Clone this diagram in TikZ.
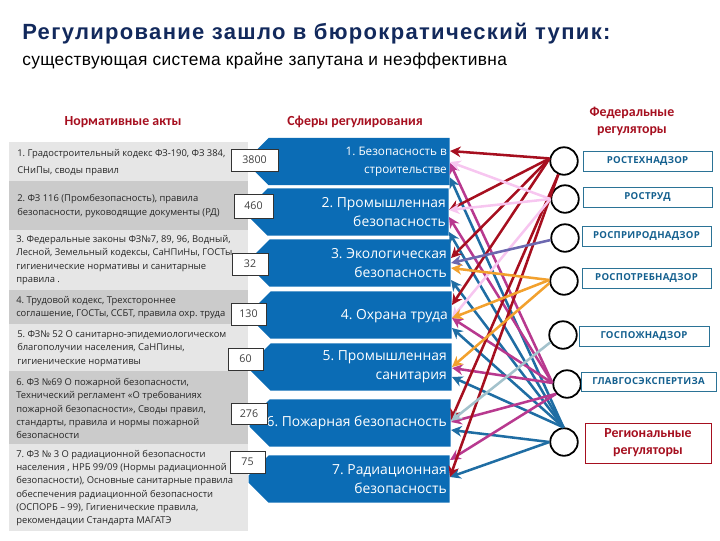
\documentclass[tikz,border=0pt]{standalone}
\usepackage{fontspec}
\setmainfont{Open Sans}
\newfontfamily\titlefont[LetterSpace=6]{Liberation Sans}
\newfontfamily\subfont[LetterSpace=2]{Liberation Sans}
\newfontfamily\regfont[LetterSpace=3]{Open Sans}
\newfontfamily\headfont{Carlito}
\usetikzlibrary{arrows.meta,shapes.misc,calc,shadows}
\frenchspacing
\def\px{0.75pt}
\definecolor{cBlue}{HTML}{0B6CB5}
\definecolor{cLine}{HTML}{1F6DA3}
\definecolor{cRed}{HTML}{A60F1F}
\definecolor{cPink}{HTML}{F7C6F0}
\definecolor{cMag}{HTML}{B8398F}
\definecolor{cPur}{HTML}{6C68B0}
\definecolor{cOra}{HTML}{F2A12E}
\definecolor{cGrey}{HTML}{A3C2CC}
\definecolor{cBandA}{HTML}{E6E6E6}
\definecolor{cBandB}{HTML}{CBCBCB}
\definecolor{cNavy}{HTML}{12295C}
\definecolor{cBoxB}{HTML}{2B7396}
\definecolor{cTxt}{HTML}{14608F}
\newcommand{\spherebody}{\phantom{\rule{132.75pt}{23.6pt}}}
\tikzset{
 band/.style={rectangle,anchor=west,minimum width=239*\px,inner sep=0pt},
 bandtext/.style={anchor=west,inner sep=0pt,align=left,text=black!85,font=\fontsize{7.05}{10}\selectfont},
 sphere/.style={chamfered rectangle,chamfered rectangle corners={north west,south west},chamfered rectangle xsep=12*\px,chamfered rectangle ysep=8*\px,fill=cBlue,anchor=east,inner sep=0pt},
 spheretext/.style={anchor=east,inner sep=0pt,align=right,text=white,font=\fontsize{10.4}{14.25}\selectfont},
 numbox/.style={rectangle,draw=black!80,line width=0.6pt,fill=white,inner sep=0pt,font=\fontsize{8}{9}\selectfont,text=black!75,drop shadow={shadow xshift=0.8pt,shadow yshift=-0.8pt,opacity=.3}},
 disc/.style={circle,draw=black,line width=1.35pt,fill=white,minimum size=27.5*\px,inner sep=0pt},
 reg/.style={rectangle,draw=cBoxB,line width=0.6pt,fill=white,minimum height=20*\px,inner sep=0pt,text=cTxt,font=\regfont\fontsize{7.2}{8}\bfseries\selectfont},
 head/.style={text=cRed,align=center,inner sep=0pt,font=\headfont\fontsize{10.4}{12.75}\bfseries\selectfont},
 conn/.style={-{Stealth[length=8pt,width=8pt]},line width=1.9pt},
}
% colour, start anchor, sphere, vertical offset from the sphere's east point in px
\newcommand{\conn}[4]{\draw[conn,#1] (#2) -- ($(#3.east)+(0,#4)$);}
\begin{document}
\begin{tikzpicture}[x=\px,y=-\px]
\useasboundingbox (0,0) rectangle (720,540);
\node[anchor=base west,inner sep=0pt,text=cNavy,font=\titlefont\fontsize{16.5}{18}\bfseries\selectfont] (title) at (22,39) {Регулирование зашло в бюрократический тупик:};
\node[anchor=base west,inner sep=0pt,text=black,font=\subfont\fontsize{13}{15}\selectfont] (subtitle) at (22,65) {существующая система крайне запутана и неэффективна};
\node[head] (h1) at (123,122) {Нормативные акты};
\node[head] (h2) at (355,122) {Сферы регулирования};
\node[head] (h3) at (632,121) {Федеральные\\регуляторы};

\node[band,fill=cBandA,minimum height=39*\px] (b1) at (9,161.5) {};
\node[band,fill=cBandB,minimum height=49*\px] (b2) at (9,205.5) {};
\node[band,fill=cBandA,minimum height=60*\px] (b3) at (9,260) {};
\node[band,fill=cBandB,minimum height=34*\px] (b4) at (9,307) {};
\node[band,fill=cBandA,minimum height=47*\px] (b5) at (9,347.5) {};
\node[band,fill=cBandB,minimum height=73*\px] (b6) at (9,407.5) {};
\node[band,fill=cBandA,minimum height=87*\px] (b7) at (9,487.5) {};
\node[bandtext,font=\fontsize{7.05}{12.75}\selectfont] (t1) at (17,162.5) {1. Градостроительный кодекс ФЗ-190, ФЗ 384,\\СНиПы, своды правил};
\node[bandtext] (t2) at (17,206) {2. ФЗ 116 (Промбезопасность), правила\\безопасности, руководящие документы (РД)};
\node[bandtext] (t3) at (16,260) {3. Федеральные законы ФЗ№7, 89, 96, Водный,\\Лесной, Земельный кодексы, СаНПиНы, ГОСТы,\\гигиенические нормативы и санитарные\\правила .};
\node[bandtext] (t4) at (16,307.5) {4. Трудовой кодекс, Трехстороннее\\соглашение, ГОСТы, ССБТ, правила охр. труда};
\node[bandtext] (t5) at (17,348.5) {5. ФЗ№ 52 О санитарно-эпидемиологическом\\благополучии населения, СаНПины,\\гигиенические нормативы};
\node[bandtext] (t6) at (16,408.5) {6. ФЗ №69 О пожарной безопасности,\\Технический регламент «О требованиях\\пожарной безопасности», Своды правил,\\стандарты, правила и нормы пожарной\\безопасности};
\node[bandtext] (t7) at (16,488) {7. ФЗ № 3 О радиационной безопасности\\населения , НРБ 99/09 (Нормы радиационной\\безопасности), Основные санитарные правила\\обеспечения радиационной безопасности\\(ОСПОРБ – 99), Гигиенические правила,\\рекомендации Стандарта МАГАТЭ};

\node[sphere] (s1) at (450,161.5) {\spherebody};
\node[sphere] (s2) at (449,212) {\spherebody};
\node[sphere] (s3) at (451,263) {\spherebody};
\node[sphere] (s4) at (452,315) {\spherebody};
\node[sphere] (s5) at (452,367) {\spherebody};
\node[sphere] (s6) at (451,423) {\spherebody};
\node[sphere] (s7) at (450,479) {\spherebody};
\node[spheretext,font=\fontsize{8.8}{13.5}\selectfont] (q1) at (447,162) {1. Безопасность в\\строительстве};
\node[spheretext] (q2) at (446,212.5) {2. Промышленная\\безопасность};
\node[spheretext] (q3) at (447,263.5) {3. Экологическая\\безопасность};
\node[spheretext] (q4) at (448,316) {4. Охрана труда};
\node[spheretext] (q5) at (447,366.5) {5. Промышленная\\санитария};
\node[spheretext] (q6) at (447,423) {6. Пожарная безопасность};
\node[spheretext] (q7) at (447,479.5) {7. Радиационная\\безопасность};

\node[numbox,minimum width=47*\px,minimum height=22*\px] (n1) at (254.5,160) {3800};
\node[numbox,minimum width=39*\px,minimum height=24*\px] (n2) at (253.5,206) {460};
\node[numbox,minimum width=36*\px,minimum height=22*\px] (n3) at (250,264) {32};
\node[numbox,minimum width=35*\px,minimum height=22*\px] (n4) at (248.5,314) {130};
\node[numbox,minimum width=35*\px,minimum height=22*\px] (n5) at (245.5,359) {60};
\node[numbox,minimum width=36*\px,minimum height=21*\px] (n6) at (249,413.5) {276};
\node[numbox,minimum width=35*\px,minimum height=22*\px] (n7) at (247.5,462) {75};

\node[disc] (d1) at (564,161) {};
\node[disc] (d2) at (565,199) {};
\node[disc] (d3) at (565,238) {};
\node[disc] (d4) at (564,281) {};
\node[disc] (d5) at (563,335) {};
\node[disc] (d6) at (567,384) {};
\node[disc] (d7) at (564,442) {};

\conn{cLine}{d7.92}{s1}{16}
\conn{cLine}{d7.92}{s2}{20}
\conn{cLine}{d7.92}{s3}{17}
\conn{cLine}{d7.92}{s4}{13}
\conn{cLine}{d7.92}{s5}{10}
\conn{cLine}{d7.180}{s6}{7}
\conn{cLine}{d7.180}{s7}{-2}
\conn{cMag}{d6.176}{s1}{1.5}
\conn{cMag}{d6.176}{s2}{5}
\conn{cMag}{d6.176}{s4}{3}
\conn{cMag}{d6.176}{s5}{1}
\conn{cMag}{d6.222}{s6}{-1}
\conn{cMag}{d6.222}{s7}{-19}
\conn{cRed}{d1.170}{s2}{-2}
\conn{cRed}{d1.170}{s3}{-5}
\conn{cRed}{d1.170}{s4}{-10}
\conn{cRed}{d1.247}{s6}{-3}
\conn{cRed}{d1.247}{s7}{-2}
\conn{cRed}{d1.170}{s1}{-10.5}
\conn{cPink}{d2.180}{s1}{0.5}
\conn{cPink}{d2.180}{s2}{-2}
\conn{cPink}{d2.180}{s4}{3}
\conn{cPur}{d3.188}{s3}{0}
\conn{cOra}{d4.176}{s3}{5}
\conn{cOra}{d4.176}{s4}{3}
\conn{cOra}{d4.188}{s5}{0}
\conn{cGrey}{d5.210}{s6}{-2}

\node[reg,minimum width=129*\px] (r1) at (647.5,161) {РОСТЕХНАДЗОР};
\node[reg,minimum width=129*\px] (r2) at (647.5,197) {РОСТРУД};
\node[reg,minimum width=129*\px] (r3) at (646.5,236) {РОСПРИРОДНАДЗОР};
\node[reg,minimum width=129*\px] (r4) at (646.5,278) {РОСПОТРЕБНАДЗОР};
\node[reg,minimum width=130*\px] (r5) at (644,336) {ГОСПОЖНАДЗОР};
\node[reg,minimum width=135*\px,minimum height=19*\px] (r6) at (648.5,381.5) {ГЛАВГОСЭКСПЕРТИЗА};
\node[rectangle,draw=cRed,line width=0.6pt,fill=white,minimum width=126*\px,minimum height=40*\px,inner sep=0pt,text=cRed,align=center,font=\headfont\fontsize{10.4}{12.75}\bfseries\selectfont] (r7) at (648,443) {Региональные\\регуляторы};
\end{tikzpicture}
\end{document}
